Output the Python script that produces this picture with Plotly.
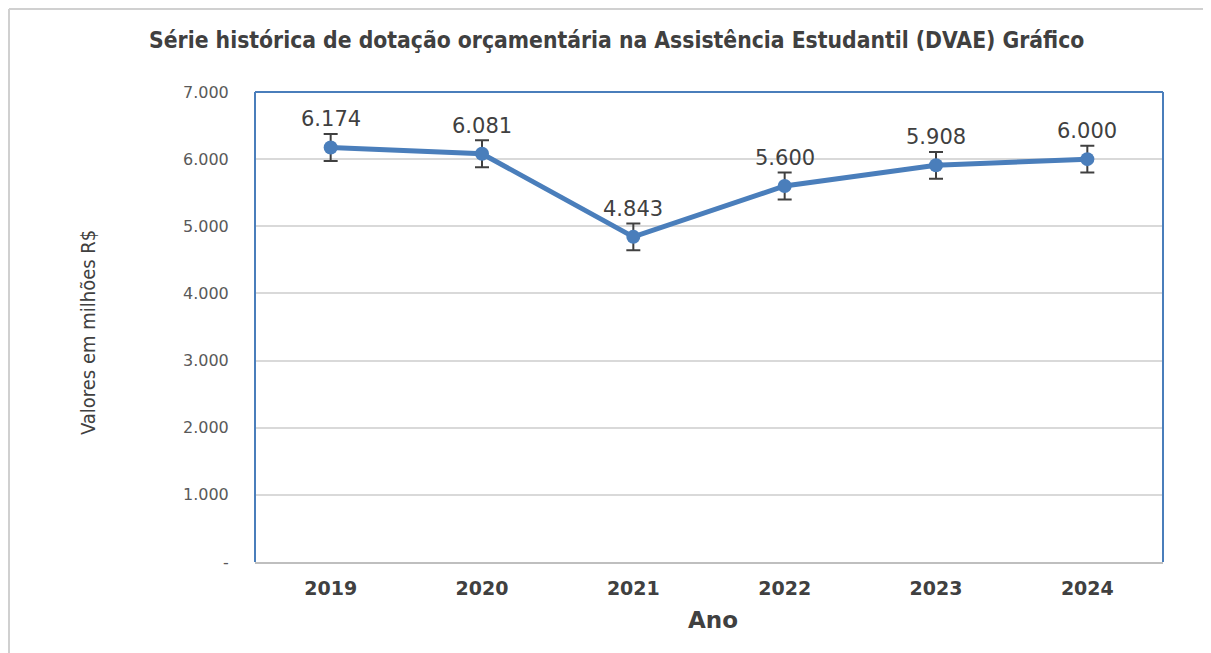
import plotly.graph_objects as go

anos = ["2019", "2020", "2021", "2022", "2023", "2024"]
valores = [6174, 6081, 4843, 5600, 5908, 6000]
erro = [200, 200, 200, 200, 200, 200]
rotulos = ["6.174", "6.081", "4.843", "5.600", "5.908", "6.000"]
y_ticks = [0, 1000, 2000, 3000, 4000, 5000, 6000, 7000]
y_tick_labels = ["-", "1.000", "2.000", "3.000", "4.000", "5.000", "6.000", "7.000"]

W, H = 1203, 645
L, T, PW, PH = 247, 84, 908, 470

fig = go.Figure()
fig.add_trace(go.Scatter(
    x=anos, y=valores,
    mode="lines+markers",
    line=dict(color="#4a7ebb", width=5),
    marker=dict(color="#4a7ebb", size=14),
    error_y=dict(type="data", array=erro, color="#404040", thickness=2, width=7),
    showlegend=False,
))

for i, (v, r) in enumerate(zip(valores, rotulos)):
    fig.add_annotation(x=i, y=v, text=r, showarrow=False, yanchor="middle", yshift=28,
                       font=dict(family="DejaVu Sans", size=21, color="#404040"))

fig.update_layout(
    width=W, height=H,
    margin=dict(l=L, r=W - L - PW, t=T, b=H - T - PH),
    paper_bgcolor="white", plot_bgcolor="white",
    title=dict(
        text="<b>Série histórica de dotação orçamentária na Assistência Estudantil (DVAE) Gráfico</b>",
        x=0.506, xanchor="center", y=1 - 32 / H, yanchor="middle",
        font=dict(family="DejaVu Sans Condensed", size=22.7, color="#404040"),
    ),
    xaxis=dict(
        type="category", categoryorder="array", categoryarray=anos,
        range=[-0.5, len(anos) - 0.5], showgrid=False,
        showline=True, linecolor="#bfbfbf", linewidth=2,
        tickfont=dict(family="DejaVu Sans", size=19, color="#404040", weight="bold"),
        ticks="outside", ticklen=8, tickcolor="rgba(0,0,0,0)",
    ),
    yaxis=dict(
        range=[0, 7000], tickvals=y_ticks, ticktext=y_tick_labels,
        showgrid=True, gridcolor="#d9d9d9", gridwidth=1.5,
        zeroline=False, showline=False,
        tickfont=dict(family="DejaVu Sans", size=16, color="#595959"),
        ticks="outside", ticklen=22, tickcolor="rgba(0,0,0,0)",
    ),
    font=dict(family="DejaVu Sans", color="#404040"),
)

# axis titles
fig.add_annotation(text="<b>Ano</b>", xref="paper", yref="paper", x=0.504, y=0, yanchor="middle",
                   yshift=-58, showarrow=False,
                   font=dict(family="DejaVu Sans", size=23, color="#404040"))
fig.add_annotation(text="Valores em milhões R$", xref="paper", yref="paper", x=0, y=0.5,
                   xanchor="center", yanchor="middle", xshift=-167, yshift=-6, textangle=-90,
                   showarrow=False,
                   font=dict(family="DejaVu Sans Condensed", size=20, color="#404040"))

# plot area blue frame (left, top, right)
fig.add_shape(type="line", xref="paper", yref="paper", x0=0, x1=0, y0=0, y1=1, line=dict(color="#4a7ebb", width=2))
fig.add_shape(type="line", xref="paper", yref="paper", x0=0, x1=1, y0=1, y1=1, line=dict(color="#4a7ebb", width=2))
fig.add_shape(type="line", xref="paper", yref="paper", x0=1, x1=1, y0=0, y1=1, line=dict(color="#4a7ebb", width=2))

# outer chart border
top_b = 1 + (T - 1) / PH
left_b = (1 - L) / PW
fig.add_shape(type="line", xref="paper", yref="paper", x0=left_b, x1=1.1, y0=top_b, y1=top_b,
              line=dict(color="#d0d0d0", width=2))
fig.add_shape(type="line", xref="paper", yref="paper", x0=left_b, x1=left_b, y0=-0.25, y1=top_b,
              line=dict(color="#d0d0d0", width=2))

fig.write_html("out.html")
